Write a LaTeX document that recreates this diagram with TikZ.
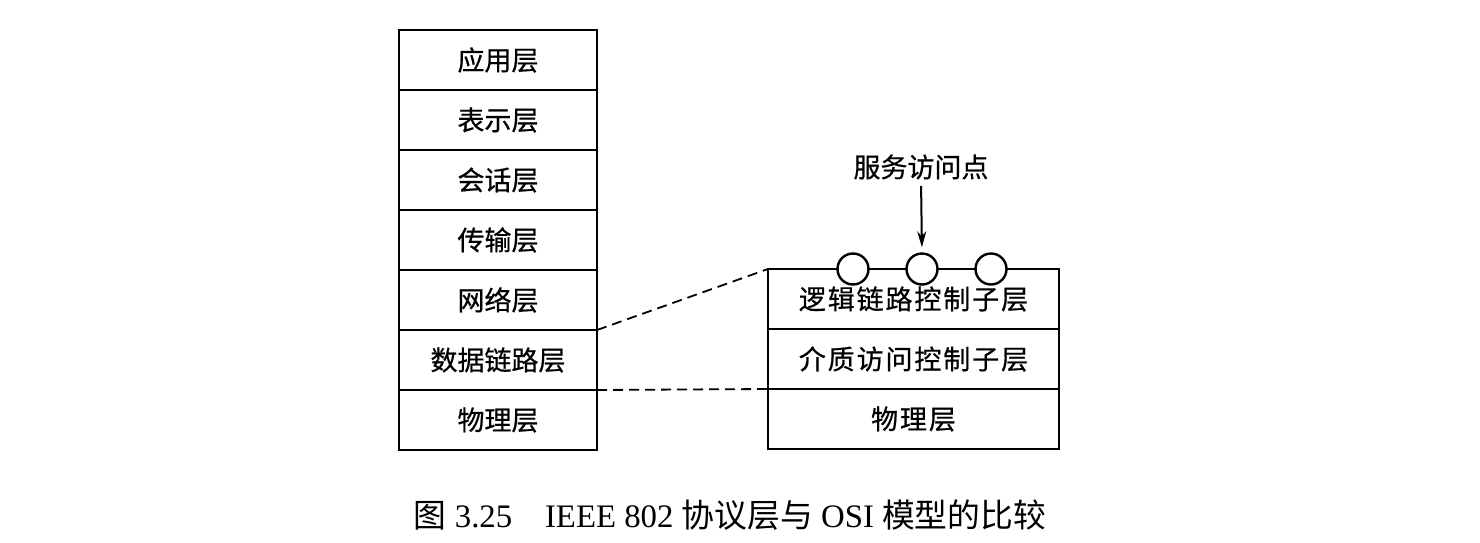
\documentclass[tikz,border=0pt]{standalone}
\usepackage{fontspec}
\setmainfont{Liberation Serif}
\newfontfamily\cjk[FakeBold=0.6]{Noto Sans CJK SC}
\newfontfamily\cjkwide[FakeBold=0.6, LetterSpace=7]{Noto Sans CJK SC}
\newfontfamily\cjkcap{Noto Sans CJK SC}
\usetikzlibrary{arrows.meta}

\begin{document}
\begin{tikzpicture}[
    x=0.5pt, y=-0.5pt,
    every node/.style={font=\cjk\fontsize{13.5}{16}\selectfont},
    layer/.style={
        draw,
        line width=1.2pt,
        minimum width=99pt,
        minimum height=30pt,
        inner sep=0pt,
        outer sep=0pt
    },
    sublayer/.style={
        draw,
        line width=1.2pt,
        minimum width=145.5pt,
        minimum height=30pt,
        inner sep=0pt,
        outer sep=0pt,
        font=\cjkwide\fontsize{13.5}{16}\selectfont
    },
    sap/.style={
        circle,
        draw,
        fill=white,
        line width=1.2pt,
        minimum size=15.5pt,
        inner sep=0pt
    },
    arr/.style={-{Stealth[length=8pt, width=4.5pt]}, line width=1pt},
    joinline/.style={line width=0.9pt, dash pattern=on 5pt off 3pt}
]

    \useasboundingbox (0,0) rectangle (1480,542);

    % OSI
    \node[layer] (app)   at (498,60)  {应用层};
    \node[layer] (pres)  at (498,120) {表示层};
    \node[layer] (sess)  at (498,180) {会话层};
    \node[layer] (trans) at (498,240) {传输层};
    \node[layer] (net)   at (498,300) {网络层};
    \node[layer] (dlink) at (498,360) {数据链路层};
    \node[layer] (phys)  at (498,420) {物理层};

    % IEEE 802
    \node[sublayer] (llc)   at (913.5,299) {逻辑链路控制子层};
    \node[sublayer] (mac)   at (913.5,359) {介质访问控制子层};
    \node[sublayer] (lphys) at (913.5,419) {物理层};

    % Service access points
    \node[sap] (sapa) at (853,269) {};
    \node[sap] (sapb) at (922,269) {};
    \node[sap] (sapc) at (991,269) {};

    \node[inner sep=0pt] (saplabel) at (921,167) {服务访问点};
    \draw[arr, shorten <=3pt, shorten >=2.5pt] (saplabel.south) -- (sapb.north);

    % Dashed lines
    \draw[joinline] (net.south east) -- (llc.north west);
    \draw[joinline] (dlink.south east) -- (lphys.north west);

    % Caption
    \node[font=\fontsize{16.4}{19}\selectfont] (caption) at (730,515)
        {{\cjkcap 图} 3.25\quad IEEE 802 {\cjkcap 协议层与} OSI {\cjkcap 模型的比较}};

\end{tikzpicture}
\end{document}
